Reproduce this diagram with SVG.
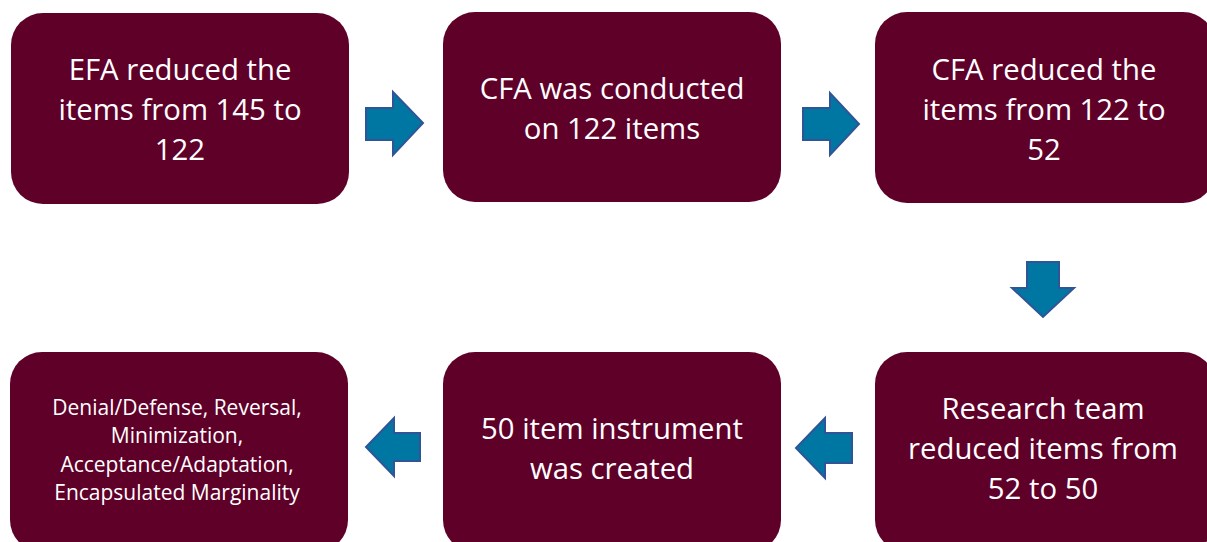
<svg xmlns="http://www.w3.org/2000/svg" width="1207" height="542" viewBox="0 0 1207 542">
  <style>
    .box { fill: #5f0029; }
    .arrow { fill: #0077a2; stroke: #2f5597; stroke-width: 2; stroke-linejoin: miter; }
    .t { font-family: "Open Sans", "Noto Sans", sans-serif; font-size: 29.3px; fill: #ffffff; text-anchor: middle; }
    .s { font-family: "Open Sans", "Noto Sans", sans-serif; font-size: 21px; fill: #ffffff; text-anchor: middle; }
  </style>
  <rect width="1207" height="542" fill="#ffffff"/>

  <g id="node-efa">
    <rect class="box" x="11" y="13" width="338" height="191" rx="32"/>
    <text class="t" x="180" y="80">EFA reduced the</text>
    <text class="t" x="180" y="120">items from 145 to</text>
    <text class="t" x="180" y="160">122</text>
  </g>

  <g id="node-cfa">
    <rect class="box" x="443" y="12" width="338" height="190" rx="32"/>
    <text class="t" x="612" y="99">CFA was conducted</text>
    <text class="t" x="612" y="139">on 122 items</text>
  </g>

  <g id="node-cfa-reduced">
    <rect class="box" x="875" y="12" width="340" height="191" rx="32"/>
    <text class="t" x="1044" y="80">CFA reduced the</text>
    <text class="t" x="1044" y="120">items from 122 to</text>
    <text class="t" x="1044" y="160">52</text>
  </g>

  <g id="node-team">
    <rect class="box" x="875" y="352" width="340" height="200" rx="32"/>
    <text class="t" x="1043" y="419">Research team</text>
    <text class="t" x="1043" y="459">reduced items from</text>
    <text class="t" x="1043" y="499">52 to 50</text>
  </g>

  <g id="node-instrument">
    <rect class="box" x="443" y="352" width="338" height="200" rx="32"/>
    <text class="t" x="612" y="439">50 item instrument</text>
    <text class="t" x="612" y="479">was created</text>
  </g>

  <g id="node-scales">
    <rect class="box" x="10" y="352" width="338" height="200" rx="32"/>
    <text class="s" x="177" y="415">Denial/Defense, Reversal,</text>
    <text class="s" x="177" y="443">Minimization,</text>
    <text class="s" x="177" y="472">Acceptance/Adaptation,</text>
    <text class="s" x="177" y="500">Encapsulated Marginality</text>
  </g>

  <g id="connectors">
    <!-- right arrows along the top row -->
    <polygon class="arrow" points="366,108 393,108 393,92 423,123 393,155 393,140 366,140"/>
    <polygon class="arrow" points="803,108 830,108 830,93 859,124 830,155 830,140 803,140"/>
    <!-- down arrow on the right side -->
    <polygon class="arrow" points="1027,262 1059,262 1059,288 1074,288 1043,317 1012,288 1027,288"/>
    <!-- left arrows along the bottom row -->
    <polygon class="arrow" points="852,433 825,433 825,418 796,448 825,478 825,463 852,463"/>
    <polygon class="arrow" points="420,433 394,433 394,418 366,447 394,476 394,461 420,461"/>
  </g>
</svg>
